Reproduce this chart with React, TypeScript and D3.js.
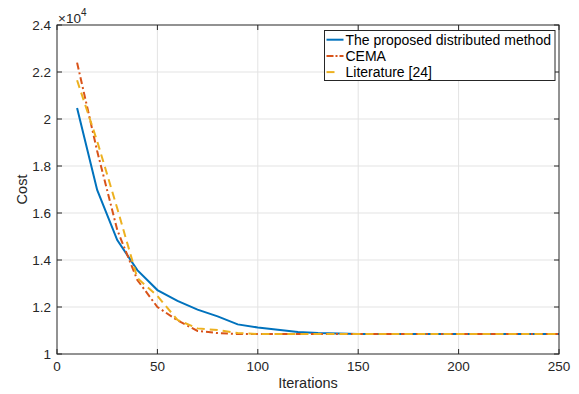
import React, { useEffect, useRef } from "react";
import * as d3 from "d3";

const iterations = [10, 20, 30, 40, 50, 60, 70, 80, 90, 100, 110, 120, 130, 140, 150, 160, 170, 180, 190, 200, 210, 220, 230, 240, 250];

const proposedCost = [20470, 16980, 14850, 13570, 12720, 12260, 11890, 11600, 11260, 11130, 11030, 10940, 10890, 10870, 10850, 10850, 10850, 10850, 10850, 10850, 10850, 10850, 10850, 10850, 10850];
const cemaCost = [22400, 18640, 15280, 13150, 12000, 11430, 10980, 10890, 10850, 10850, 10850, 10850, 10850, 10850, 10850, 10850, 10850, 10850, 10850, 10850, 10850, 10850, 10850, 10850, 10850];
const literatureCost = [21650, 19060, 16200, 13230, 12470, 11450, 11090, 11020, 10890, 10850, 10850, 10850, 10850, 10850, 10850, 10850, 10850, 10850, 10850, 10850, 10850, 10850, 10850, 10850, 10850];

const seriesNames = ["The proposed distributed method", "CEMA", "Literature [24]"];
const xTicks = [0, 50, 100, 150, 200, 250];
const yTicks = [10000, 12000, 14000, 16000, 18000, 20000, 22000, 24000];

const W = 579;
const H = 394;
const M = { left: 57, right: 20, top: 25, bottom: 40 };
const FONT = "'Liberation Sans', Arial, Helvetica, sans-serif";
const AXIS = "#262626";

export default function App() {
  const ref = useRef<SVGSVGElement | null>(null);

  useEffect(() => {
    const svg = d3.select(ref.current);
    svg.selectAll("*").remove();

    const x = d3.scaleLinear().domain([0, 250]).range([M.left, W - M.right]);
    const y = d3.scaleLinear().domain([10000, 24000]).range([H - M.bottom, M.top]);
    const x0 = x.range()[0], x1 = x.range()[1];
    const yb = y.range()[0], yt = y.range()[1];

    svg.append("rect").attr("x", x0).attr("y", yt).attr("width", x1 - x0).attr("height", yb - yt).attr("fill", "#fff");

    // grid
    const grid = svg.append("g").attr("stroke", "#e3e3e3").attr("stroke-width", 1);
    xTicks.slice(1, -1).forEach((t) => {
      grid.append("line").attr("x1", x(t)).attr("x2", x(t)).attr("y1", yt).attr("y2", yb);
    });
    yTicks.slice(1, -1).forEach((t) => {
      grid.append("line").attr("x1", x0).attr("x2", x1).attr("y1", y(t)).attr("y2", y(t));
    });

    const series = [
      { vals: proposedCost, color: "#0072BD", dash: null as string | null },
      { vals: cemaCost, color: "#D95319", dash: "7,3,2,3" },
      { vals: literatureCost, color: "#EDB120", dash: "8,5" },
    ];

    const line = d3
      .line<number>()
      .x((_, i) => x(iterations[i]))
      .y((d) => y(d));

    series.forEach((s) => {
      const p = svg
        .append("path")
        .datum(s.vals)
        .attr("d", line)
        .attr("fill", "none")
        .attr("stroke", s.color)
        .attr("stroke-width", 2);
      if (s.dash) p.attr("stroke-dasharray", s.dash);
    });

    // axes box with inward ticks
    const ax = svg.append("g").attr("stroke", AXIS).attr("stroke-width", 1).attr("fill", "none");
    ax.append("rect").attr("x", x0).attr("y", yt).attr("width", x1 - x0).attr("height", yb - yt);
    const tl = 5;
    xTicks.forEach((t) => {
      ax.append("line").attr("x1", x(t)).attr("x2", x(t)).attr("y1", yb).attr("y2", yb - tl);
      ax.append("line").attr("x1", x(t)).attr("x2", x(t)).attr("y1", yt).attr("y2", yt + tl);
    });
    yTicks.forEach((t) => {
      ax.append("line").attr("x1", x0).attr("x2", x0 + tl).attr("y1", y(t)).attr("y2", y(t));
      ax.append("line").attr("x1", x1).attr("x2", x1 - tl).attr("y1", y(t)).attr("y2", y(t));
    });

    const txt = svg.append("g").attr("font-family", FONT).attr("fill", AXIS);
    xTicks.forEach((t) => {
      txt.append("text").attr("x", x(t)).attr("y", yb + 17).attr("text-anchor", "middle").attr("font-size", 13.5).text(String(t));
    });
    yTicks.forEach((t) => {
      txt.append("text").attr("x", x0 - 6).attr("y", y(t) + 4.8).attr("text-anchor", "end").attr("font-size", 13.5).text(d3.format("")(t / 10000));
    });

    // exponent marker
    const ex = txt.append("text").attr("x", x0 + 1).attr("y", yt - 2.5).attr("font-size", 13.5);
    ex.append("tspan").text("\u00d710");
    ex.append("tspan").attr("font-size", 10).attr("dy", -7).text("4");

    txt.append("text").attr("x", (x0 + x1) / 2).attr("y", H - 6).attr("text-anchor", "middle").attr("font-size", 14.5).text("Iterations");
    txt
      .append("text")
      .attr("transform", `translate(27,${(yt + yb) / 2}) rotate(-90)`)
      .attr("text-anchor", "middle")
      .attr("font-size", 14.5)
      .text("Cost");

    // legend
    const lg = svg.append("g");
    const lx = 324.5, ly = 30.5, lw = 230.5, lh = 50;
    lg.append("rect").attr("x", lx).attr("y", ly).attr("width", lw).attr("height", lh).attr("fill", "#fff").attr("stroke", AXIS).attr("stroke-width", 1);
    const legendDash = [null, "7,2,2,2", "8,20"];
    series.forEach((s, i) => {
      const cy = 39.7 + i * 16.2;
      const l = lg
        .append("line")
        .attr("x1", lx + 2)
        .attr("x2", lx + 19)
        .attr("y1", cy)
        .attr("y2", cy)
        .attr("stroke", s.color)
        .attr("stroke-width", 2);
      if (legendDash[i]) l.attr("stroke-dasharray", legendDash[i] as string);
      lg.append("text")
        .attr("x", lx + 21)
        .attr("y", cy + 5)
        .attr("font-family", FONT)
        .attr("font-size", 14)
        .attr("fill", "#000")
        .text(seriesNames[i]);
    });
  }, []);

  return (
    <svg
      ref={ref}
      width={W}
      height={H}
      style={{ position: "absolute", left: 0, top: 0, background: "#fff" }}
    />
  );
}
